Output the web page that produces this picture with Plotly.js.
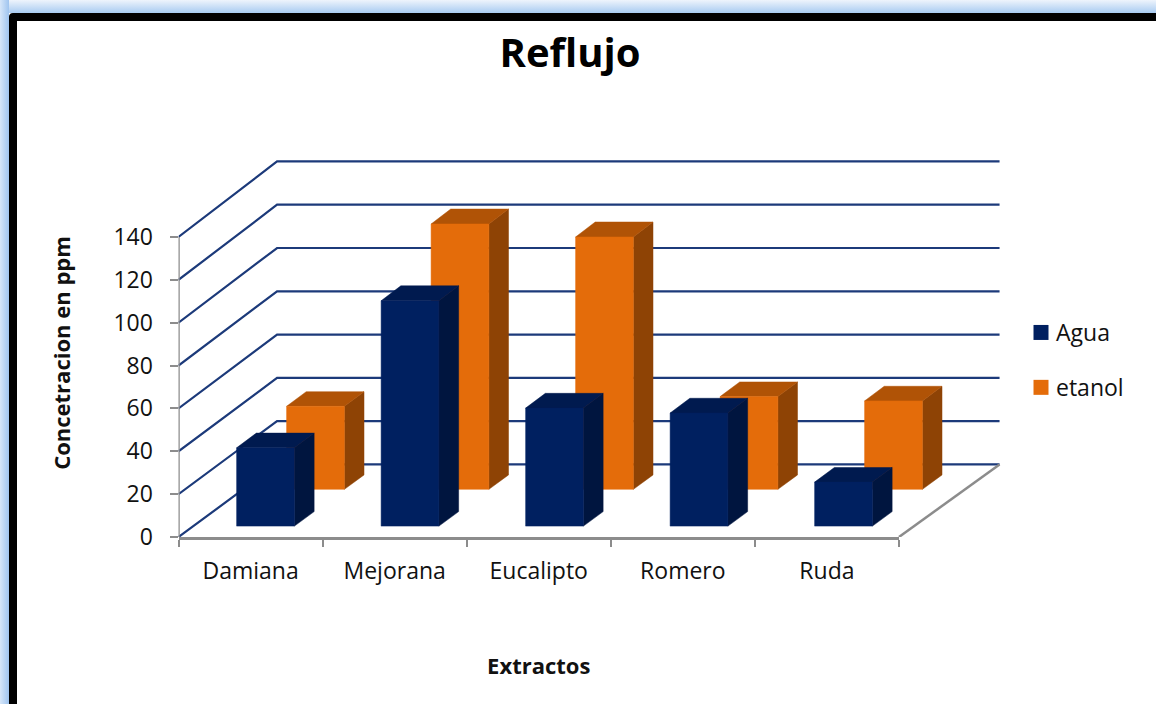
<!DOCTYPE html>
<html>
<head>
<meta charset="utf-8">
<script src="https://cdn.plot.ly/plotly-3.0.1.min.js"></script>
<style>
  html, body { margin: 0; padding: 0; width: 1156px; height: 704px; overflow: hidden; background: #fff; }
  #halo { position: absolute; left: 0; top: 0; width: 1156px; height: 704px;
          background: linear-gradient(90deg, #d6e6f9 0, #9fc4ef 9px, transparent 9px),
                      linear-gradient(180deg, #eef4fc 0, #a8cbf1 13px, transparent 13px); }
  #frame { position: absolute; left: 9px; top: 13px; width: 1200px; height: 760px; background: #fff;
           border: 8px solid #000; border-radius: 4px; box-sizing: border-box; }
  #chart { position: absolute; left: 0; top: 0; width: 1156px; height: 704px; }
  .legend .legendtext { transform: translateX(-5px); }
</style>
</head>
<body>
<div id="halo"></div>
<div id="frame"></div>
<div id="chart"></div>
<script>
// Extract concentrations (ppm) after reflux
const categories = ['Damiana', 'Mejorana', 'Eucalipto', 'Romero', 'Ruda'];
const agua = [36.5, 105, 55, 52.7, 20.5];
const etanol = [38.5, 123, 117, 43, 41];
const yTicks = [0, 20, 40, 60, 80, 100, 120, 140];

const fontFamily = '"Open Sans", sans-serif';
const navy = '#002060', navyTop = '#001a4f', navySide = '#00153f';
const orange = '#e46c0a', orangeTop = '#b05306', orangeSide = '#8e4305';
const wallLine = '#1c3a7a', axisGrey = '#8c8c8c';

// Oblique projection: d = 0 is the front plane of the box, d = 1 the back wall.
const depthX = 0.682, depthY = 33.85, growY = 0.0101;
const projX = (x, d) => x + depthX * d;
const projY = (v, d) => v * (1 + growY * d) + depthY * d;

// Builds the three visible faces of a row of boxes, as null-separated polygons.
function boxes(values, d0, d1) {
  const front = {x: [], y: []}, top = {x: [], y: []}, side = {x: [], y: []};
  const push = (face, pts) => {
    pts.forEach(p => { face.x.push(projX(p[0], p[2])); face.y.push(projY(p[1], p[2])); });
    face.x.push(null); face.y.push(null);
  };
  values.forEach((v, i) => {
    const a = i + 0.3, b = i + 0.7;
    push(front, [[a, 0, d0], [b, 0, d0], [b, v, d0], [a, v, d0], [a, 0, d0]]);
    push(top, [[a, v, d0], [b, v, d0], [b, v, d1], [a, v, d1], [a, v, d0]]);
    push(side, [[b, 0, d0], [b, 0, d1], [b, v, d1], [b, v, d0], [b, 0, d0]]);
  });
  return {front, top, side};
}

// The box drawing lives on the x2/y2 subplot, which is large enough for the back wall.
function face(poly, color) {
  return {x: poly.x, y: poly.y, xaxis: 'x2', yaxis: 'y2', mode: 'lines', fill: 'toself', fillcolor: color,
          line: {width: 0.5, color: color, simplify: false},
          showlegend: false, hoverinfo: 'skip'};
}

function wall(x, y, color, width) {
  return {x, y, xaxis: 'x2', yaxis: 'y2', mode: 'lines', line: {color, width, simplify: false},
          showlegend: false, hoverinfo: 'skip'};
}

const traces = [];

// Legend entries; these also keep the labelled x/y axes on the page
[['Agua', navy], ['etanol', orange]].forEach(([name, color]) => {
  traces.push({x: [null], y: [null], name, legendgroup: name, mode: 'markers',
               marker: {symbol: 'square', size: 15, color}, hoverinfo: 'skip'});
});

// Back wall and side wall rules
yTicks.forEach(v => {
  traces.push(wall([0, projX(0, 1), projX(5, 1)], [v, projY(v, 1), projY(v, 1)], wallLine, 2.2));
});
// Floor edge on the right and the value axis line
const floorCorner = 4.986;
traces.push(wall([floorCorner, projX(5, 1)], [0, projY(0, 1)], axisGrey, 2.5));
traces.push(wall([0, 0], [0, 140], axisGrey, 2.5));

// Rear row first so the front row overlaps it
const rear = boxes(etanol, 0.657, 0.856);
const fore = boxes(agua, 0.15, 0.35);
traces.push(face(rear.side, orangeSide), face(rear.top, orangeTop), face(rear.front, orange));
traces.push(face(fore.side, navySide), face(fore.top, navyTop), face(fore.front, navy));

const W = 1156, H = 704;
const pxPerUnitX = 144.5, pxPerUnitY = 300 / 140;
const left = 178.5, bottom = 537, drawRight = 1010, drawTop = 150;

const layout = {
  width: W, height: H, autosize: false,
  margin: {l: 0, r: 0, t: 0, b: 0},
  paper_bgcolor: 'rgba(0,0,0,0)', plot_bgcolor: 'rgba(0,0,0,0)',
  font: {family: fontFamily, size: 23, color: '#111'},
  title: {text: '<b>Reflujo</b>', x: 570 / W, xanchor: 'center', y: 1 - 53 / H, yanchor: 'middle',
          font: {family: fontFamily, size: 40, color: '#000'}},
  xaxis: {
    domain: [left / W, 899 / W], range: [0, 5], anchor: 'y',
    showgrid: false, zeroline: false, showline: true, linecolor: axisGrey, linewidth: 2.5,
    tickmode: 'array', tickvals: categories.map((_, i) => i + 0.5), ticktext: categories,
    ticks: '', ticklabelstandoff: 12,
    minor: {tickmode: 'array', tickvals: [0, 1, 2, 3, 4, 5], ticks: 'outside', ticklen: 7,
            tickwidth: 2, tickcolor: axisGrey, showgrid: false},
    title: {text: '<b>Extractos</b>', standoff: 74, font: {family: fontFamily, size: 22, color: '#111'}},
    automargin: false
  },
  yaxis: {
    domain: [(H - bottom) / H, (H - 169) / H], range: [0, 368 / pxPerUnitY], anchor: 'x',
    showgrid: false, zeroline: false, showline: false,
    tickmode: 'array', tickvals: yTicks, ticks: 'outside', ticklen: 8, tickwidth: 2, tickcolor: axisGrey,
    ticklabelstandoff: 12,
    title: {text: '<b>Concetracion en ppm</b>', standoff: 36, font: {family: fontFamily, size: 22, color: '#111'}},
    automargin: false
  },
  xaxis2: {
    domain: [left / W, drawRight / W], range: [0, (drawRight - left) / pxPerUnitX], anchor: 'y2',
    visible: false
  },
  yaxis2: {
    domain: [(H - bottom) / H, (H - drawTop) / H], range: [0, (bottom - drawTop) / pxPerUnitY], anchor: 'x2',
    visible: false
  },
  legend: {x: 1021 / W, xanchor: 'left', y: 1 - 311 / H, yanchor: 'top', bgcolor: 'rgba(0,0,0,0)',
           tracegroupgap: 22, itemclick: false, itemdoubleclick: false, font: {family: fontFamily, size: 23, color: '#111'}},
  showlegend: true
};

Plotly.newPlot('chart', traces, layout, {displayModeBar: false, responsive: false});
</script>
</body>
</html>
